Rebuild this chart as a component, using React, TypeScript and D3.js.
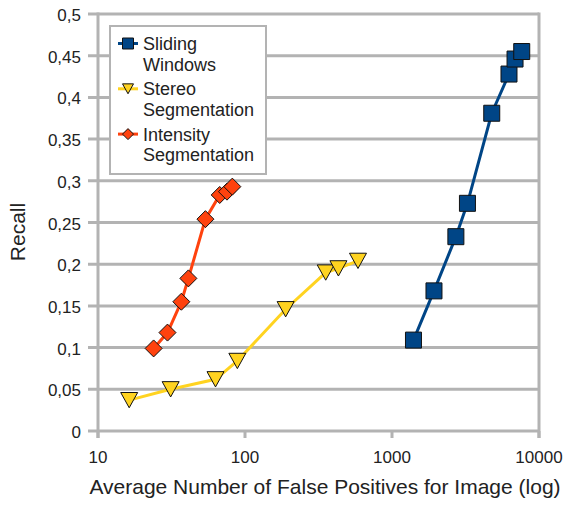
import React from 'react';
import * as d3 from 'd3';

const slidingX = [1400, 1930, 2720, 3260, 4770, 6250, 6870, 7630];
const slidingY = [0.109, 0.168, 0.233, 0.273, 0.381, 0.428, 0.446, 0.455];
const stereoX = [16.3, 31.2, 63, 88.7, 189, 354, 432, 587];
const stereoY = [0.037, 0.05, 0.062, 0.084, 0.146, 0.19, 0.195, 0.204];
const intensityX = [23.9, 29.7, 36.9, 41.2, 53.8, 67.3, 75.4, 82];
const intensityY = [0.099, 0.118, 0.155, 0.183, 0.254, 0.283, 0.287, 0.293];

const yTicks = [0, 0.05, 0.1, 0.15, 0.2, 0.25, 0.3, 0.35, 0.4, 0.45, 0.5];
const xTicks = [10, 100, 1000, 10000];

const legendLabels = [
  ['Sliding', 'Windows'],
  ['Stereo', 'Segmentation'],
  ['Intensity', 'Segmentation'],
];

const width = 565;
const height = 507;
const font = '"Liberation Sans", Arial, sans-serif';
const gridColor = '#b3b3b3';

type Shape = 'square' | 'triangle' | 'diamond';

const markerPath = (shape: Shape, s: number) => {
  const h = s / 2;
  if (shape === 'square') return `M${-h},${-h}H${h}V${h}H${-h}Z`;
  if (shape === 'triangle') return `M${-h},${-h * 0.9}H${h}L0,${h * 0.9}Z`;
  return `M0,${-h}L${h},0L0,${h}L${-h},0Z`;
};

const series = [
  { xs: slidingX, ys: slidingY, color: '#004586', shape: 'square' as Shape, size: 16 },
  { xs: stereoX, ys: stereoY, color: '#ffd320', shape: 'triangle' as Shape, size: 17 },
  { xs: intensityX, ys: intensityY, color: '#ff420e', shape: 'diamond' as Shape, size: 17 },
];

export default function App() {
  const x = d3.scaleLog().domain([10, 10000]).range([98, 539]);
  const y = d3.scaleLinear().domain([0, 0.5]).range([431, 14]);
  const fmt = (v: number) => String(+v.toFixed(2)).replace('.', ',');

  const line = d3
    .line<[number, number]>()
    .x(d => x(d[0]))
    .y(d => y(d[1]));

  return (
    <svg
      width={width}
      height={height}
      style={{ position: 'absolute', left: 0, top: 0, background: '#fff' }}
      fontFamily={font}
    >
      {/* grid */}
      {yTicks.map(t => (
        <g key={t}>
          <line x1={88} x2={539} y1={y(t)} y2={y(t)} stroke={gridColor} strokeWidth={3} />
          <text x={81} y={y(t) + 7} textAnchor="end" fontSize={17} fill="#222">
            {fmt(t)}
          </text>
        </g>
      ))}
      <line x1={x(10)} x2={x(10)} y1={y(0.5) - 1.5} y2={y(0) + 7} stroke={gridColor} strokeWidth={3} />
      <line x1={x(10000)} x2={x(10000)} y1={y(0.5) - 1.5} y2={y(0) + 7} stroke={gridColor} strokeWidth={3} />
      {xTicks.map(t => (
        <g key={t}>
          <line x1={x(t)} x2={x(t)} y1={y(0)} y2={y(0) + 7} stroke={gridColor} strokeWidth={3} />
          <text x={x(t)} y={463} textAnchor="middle" fontSize={17} fill="#222">
            {t}
          </text>
        </g>
      ))}

      {/* axis titles */}
      <text x={325} y={494} textAnchor="middle" fontSize={21} fill="#222">
        Average Number of False Positives for Image (log)
      </text>
      <text
        transform="translate(25,232) rotate(-90)"
        textAnchor="middle"
        fontSize={21}
        fill="#222"
      >
        Recall
      </text>

      {/* series */}
      {series.map((s, i) => {
        const pts = s.xs.map((v, j) => [v, s.ys[j]] as [number, number]);
        return (
          <g key={i}>
            <path d={line(pts) || ''} fill="none" stroke={s.color} strokeWidth={3} />
            {pts.map((p, j) => (
              <path
                key={j}
                d={markerPath(s.shape, s.size)}
                transform={`translate(${x(p[0])},${y(p[1])})`}
                fill={s.color}
                stroke="#111"
                strokeWidth={1}
              />
            ))}
          </g>
        );
      })}

      {/* legend */}
      <rect x={110} y={26} width={156} height={148} fill="#fff" stroke={gridColor} strokeWidth={2} />
      {series.map((s, i) => {
        const cy = 43.5 + i * 45.3;
        return (
          <g key={i}>
            <line x1={118} x2={138} y1={cy} y2={cy} stroke={s.color} strokeWidth={3} />
            <path
              d={markerPath(s.shape, 11)}
              transform={`translate(128,${cy})`}
              fill={s.color}
              stroke="#111"
              strokeWidth={1}
            />
            {legendLabels[i].map((l, k) => (
              <text key={k} x={143} y={cy + 6.5 + k * 20.5} fontSize={18} fill="#222">
                {l}
              </text>
            ))}
          </g>
        );
      })}
    </svg>
  );
}
